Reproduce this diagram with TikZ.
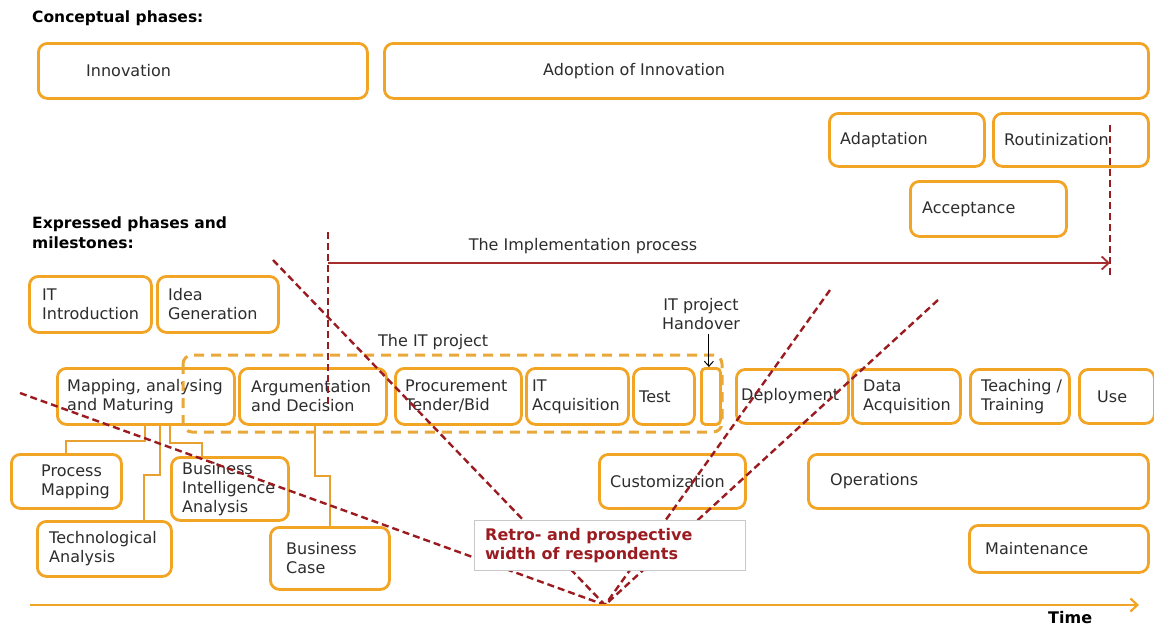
\documentclass[tikz,border=0pt]{standalone}
\usepackage{fontspec}
\setmainfont{DejaVu Sans}
\usetikzlibrary{arrows.meta,calc}
\definecolor{obox}{RGB}{242,164,36}
\definecolor{odash}{RGB}{232,168,58}
\definecolor{oconn}{RGB}{232,160,48}
\definecolor{dred}{RGB}{155,28,32}
\definecolor{ared}{RGB}{165,45,45}
\definecolor{tgray}{RGB}{45,45,45}
\definecolor{rgrayb}{RGB}{200,200,200}
\newcommand\obox[7]{%
  \node[box, minimum width={#4-#2}, minimum height={#5-#3}, anchor=north west] (#1) at (#2,#3) {};
  \node[lbl, anchor=west] (#1t) at ([xshift=#6]#1.west) {#7};}
\begin{document}
\begin{tikzpicture}[x=1pt,y=-1pt,
  box/.style={draw=obox, line width=2.8pt, rounded corners=9pt, fill=white, inner sep=0pt},
  lbl/.style={inner sep=0pt, align=left, text=tgray, font=\fontsize{16}{19}\selectfont},
  head/.style={inner sep=0pt, align=left, text=black, font=\fontsize{15.5}{20}\selectfont\bfseries},
  conn/.style={draw=oconn, line width=2pt},
  itdash/.style={draw=odash, line width=3pt, dash pattern=on 10pt off 7pt, rounded corners=9pt},
  reddash/.style={draw=dred, line width=2.4pt, dash pattern=on 7pt off 4pt},
  implarrow/.style={draw=ared, line width=1.8pt, -{Straight Barb[length=7pt,width=13pt,line width=1.8pt]}},
  timearrow/.style={draw=obox, line width=2.2pt, -{Straight Barb[length=7pt,width=13pt,line width=2.2pt]}},
  harrow/.style={draw=black, line width=1pt, -{Straight Barb[length=5pt,width=9pt]}},
  retro/.style={draw=rgrayb, line width=1pt, fill=white, inner sep=0pt}]
\useasboundingbox (0,0) rectangle (1154,627);

% headings
\node[head, anchor=west] (h1) at (32,18) {Conceptual phases:};
\node[head, anchor=west] (h2) at (32,233) {Expressed phases and\\milestones:};

% conceptual boxes
\obox{inn}{37}{42}{366}{97}{49}{Innovation}
\obox{adopt}{383}{42}{1147}{97}{160}{Adoption of Innovation}
\obox{adapt}{828}{112}{983}{165}{12}{Adaptation}
\obox{rout}{992}{112}{1147}{165}{12}{Routinization}
\obox{acc}{909}{180}{1065}{235}{13}{Acceptance}

% expressed phases
\obox{itintro}{28}{275}{150}{331}{14}{IT\\Introduction}
\obox{idea}{156}{275}{277}{331}{12}{Idea\\Generation}
\obox{map}{56}{367}{233}{423}{11}{Mapping, analysing\\and Maturing}
\obox{arg}{238}{367}{385}{423}{13}{Argumentation\\and Decision}
\obox{proc}{394}{367}{520}{423}{11}{Procurement\\Tender/Bid}
\obox{itacq}{525}{367}{627}{423}{7}{IT\\Acquisition}
\obox{test}{632}{367}{693}{423}{7}{Test}
\node[box, rounded corners=4pt, minimum width=19, minimum height=56, anchor=north west] (hand) at (700,367) {};
\obox{deploy}{735}{368}{847}{422}{6}{Deployment}
\obox{dacq}{851}{368}{959}{422}{12}{Data\\Acquisition}
\obox{teach}{969}{368}{1068}{422}{12}{Teaching /\\Training}
\obox{use}{1078}{368}{1153}{422}{19}{Use}
\obox{pm}{10}{453}{120}{507}{31}{Process\\Mapping}
\obox{tech}{36}{520}{170}{575}{13}{Technological\\Analysis}
\obox{bi}{170}{456}{287}{519}{12}{Business\\Intelligence\\Analysis}
\obox{bc}{269}{526}{388}{588}{17}{Business\\Case}
\obox{cust}{598}{453}{744}{507}{12}{Customization}
\obox{ops}{807}{453}{1147}{507}{23}{Operations}
\obox{maint}{968}{524}{1147}{571}{17}{Maintenance}

% connectors
\draw[conn] ([xshift=89]map.south west) -- ++(0,15) -| (pm.north);
\draw[conn] ([xshift=104]map.south west) -- ++(0,49) -| ([xshift=108]tech.north west);
\draw[conn] ([xshift=114]map.south west) -- ++(0,17) -| ([xshift=32]bi.north west);
\draw[conn] ([xshift=77]arg.south west) -- ++(0,50) -| ([xshift=61]bc.north west);

% IT project dashed frame
\draw[itdash] (183,355) rectangle (722,432);
\node[lbl, anchor=west] (itp) at (378,342) {The IT project};
\node[lbl, align=center] (handl) at (701,314) {IT project\\Handover};
\draw[harrow] ($(handl.south -| hand.north)+(-2,4)$) -- ([xshift=-2]hand.north);

% implementation process
\coordinate (v1a) at (328,232);
\coordinate (v1b) at (328,408);
\coordinate (v2a) at (1110,125);
\coordinate (v2b) at (1110,277);
\coordinate (impS) at (328,263);
\coordinate (impE) at (1110,263);
\draw[reddash] (v1a) -- (v1b);
\draw[reddash] (v2a) -- (v2b);
\draw[implarrow] (impS) -- (impE);
\node[lbl] (impl) at (583,246) {The Implementation process};

% respondents width lines
\coordinate (orig) at (605,605);
\coordinate (d1) at (20,393);
\coordinate (d2) at (273,260);
\coordinate (d3) at (830,290);
\coordinate (d4) at (938,300);
\draw[reddash] (d1) -- (orig);
\draw[reddash] (d2) -- (orig);
\draw[reddash] (d3) -- (orig);
\draw[reddash] (d4) -- (orig);

\node[retro, minimum width=271, minimum height=50, anchor=north west] (retro) at (474,520) {};
\node[lbl, anchor=west, text=dred, font=\fontsize{16}{19}\selectfont\bfseries] (retrot) at ([xshift=11]retro.west) {Retro- and prospective\\width of respondents};

% time axis
\coordinate (t0) at (30,605);
\coordinate (t1) at (1139,605);
\draw[timearrow] (t0) -- (t1);
\node[head, anchor=west, font=\fontsize{16}{19}\selectfont\bfseries] (time) at (1048,618) {Time};
\end{tikzpicture}
\end{document}
